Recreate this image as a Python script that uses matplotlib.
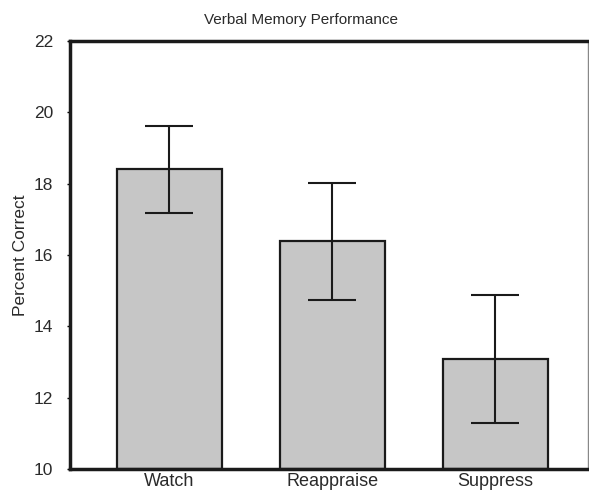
import matplotlib
matplotlib.use("Agg")
import matplotlib.pyplot as plt

categories = ["Watch", "Reappraise", "Suppress"]
means = [18.4, 16.38, 13.09]
errors = [1.23, 1.64, 1.8]
yticks = [10, 12, 14, 16, 18, 20, 22]

plt.rcParams['font.family'] = ['Liberation Sans', 'DejaVu Sans']

fig = plt.figure(figsize=(5.89, 4.92), dpi=100)
ax = fig.add_axes([70/589, 1-469/492, 518/589, 428/492])

x = list(range(len(categories)))
ax.bar(x, [m - 10 for m in means], bottom=10, width=0.645, color='#c6c6c6',
       edgecolor='#1a1a1a', linewidth=1.6)
ax.errorbar(x, means, yerr=errors, fmt='none', ecolor='#1a1a1a',
            elinewidth=1.5, capsize=17, capthick=1.5)

ax.set_xlim(-0.611, 2.571)
ax.set_ylim(10, 22)
ax.set_yticks(yticks)
ax.set_xticks(x)
ax.set_xticklabels(categories, fontsize=13, color='#2a2a2a')
ax.tick_params(axis='y', labelsize=12.5, length=2, width=1, pad=10, labelcolor='#2a2a2a')
ax.tick_params(axis='x', length=0, pad=3)

for s in ['left', 'bottom', 'top']:
    ax.spines[s].set_linewidth(2.5)
    ax.spines[s].set_color('#1a1a1a')
ax.spines['right'].set_linewidth(1)
ax.spines['right'].set_color('#888888')

ax.set_ylabel("Percent Correct", fontsize=12.5, color='#2a2a2a', labelpad=4)
fig.text(301/589, 1-20/492, "Verbal Memory Performance", fontsize=11,
         color='#2a2a2a', ha='center', va='center')

fig.savefig("out.png", dpi=100)
